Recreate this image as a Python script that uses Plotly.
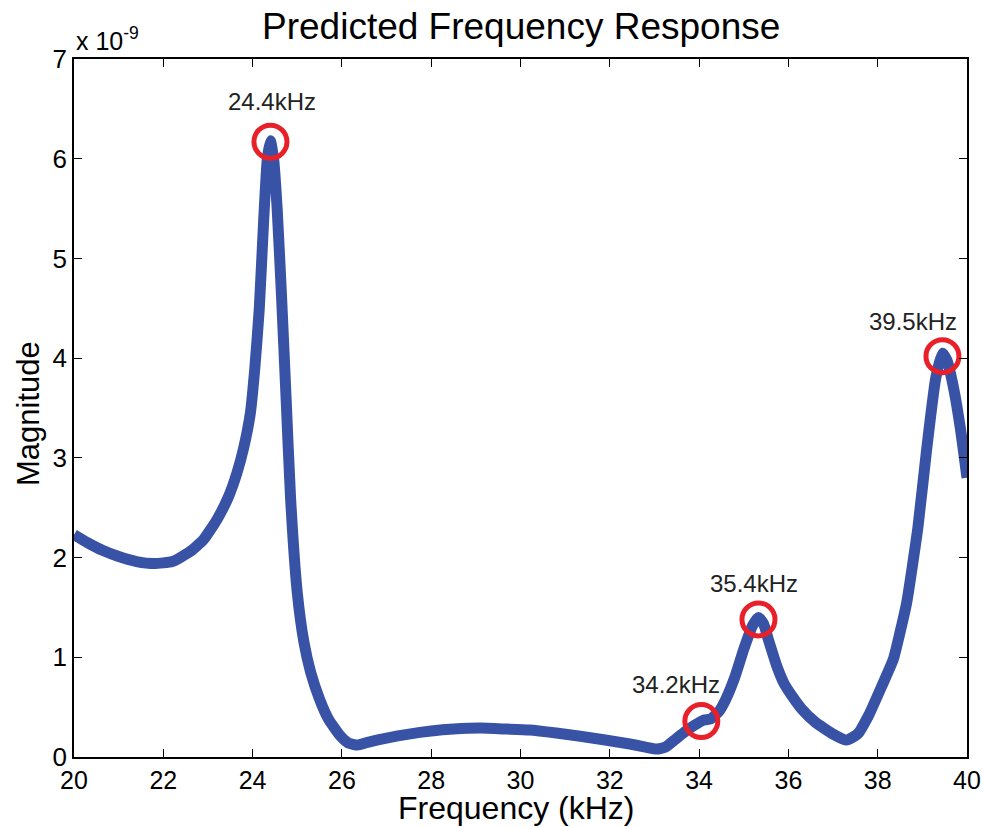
import plotly.graph_objects as go

# Frequency response (magnitude in units of 1e-9)
freq_khz = [20.0, 20.3, 20.65, 21.0, 21.4, 21.8, 22.2, 22.6, 22.9, 23.2, 23.45, 23.65, 23.8, 23.95,
            24.05, 24.15, 24.25, 24.33, 24.4, 24.47, 24.55, 24.65, 24.75, 24.85, 25.0, 25.15, 25.3,
            25.5, 25.7, 25.95, 26.15, 26.35, 26.6, 27.0, 27.5, 28.0, 28.5, 29.1, 29.7, 30.2, 30.8,
            31.3, 31.9, 32.45, 32.8, 33.05, 33.25, 33.45, 33.7, 33.9, 34.1, 34.25, 34.45, 34.6, 34.8,
            35.0, 35.2, 35.33, 35.45, 35.55, 35.75, 35.9, 36.1, 36.3, 36.6, 37.0, 37.3, 37.55, 37.8,
            38.1, 38.35, 38.5, 38.65, 38.9, 39.1, 39.3, 39.45, 39.55, 39.7, 39.85, 40.0]
magnitude = [2.23, 2.15, 2.07, 2.01, 1.96, 1.94, 1.96, 2.06, 2.18, 2.38, 2.6, 2.85, 3.1, 3.45,
             3.9, 4.5, 5.4, 6.0, 6.18, 6.0, 5.5, 4.6, 3.6, 2.6, 1.65, 1.15, 0.85,
             0.58, 0.38, 0.22, 0.14, 0.12, 0.15, 0.19, 0.23, 0.26, 0.28, 0.29, 0.28, 0.27, 0.24,
             0.21, 0.17, 0.13, 0.10, 0.08, 0.10, 0.17, 0.26, 0.32, 0.37, 0.38, 0.46, 0.58, 0.8,
             1.08, 1.32, 1.40, 1.33, 1.18, 0.9, 0.74, 0.6, 0.48, 0.35, 0.23, 0.17, 0.23, 0.42,
             0.72, 0.98, 1.25, 1.55, 2.3, 3.1, 3.8, 4.05, 3.98, 3.7, 3.3, 2.8]

# Highlighted resonances
peak_freq = [24.4, 34.05, 35.33, 39.45]
peak_mag = [6.17, 0.36, 1.38, 4.02]
peak_labels = ["24.4kHz", "34.2kHz", "35.4kHz", "39.5kHz"]
label_xshift = [2, -25, -4, -29]
label_yshift = [40, 37, 36, 35]

x_ticks = [20, 22, 24, 26, 28, 30, 32, 34, 36, 38, 40]
y_ticks = [0, 1, 2, 3, 4, 5, 6, 7]

FONT = "Liberation Sans, Arial, sans-serif"

fig = go.Figure()
fig.add_trace(go.Scatter(
    x=freq_khz, y=magnitude, mode="lines",
    line=dict(color="#3853a6", width=11, shape="spline", smoothing=0.5),
    hoverinfo="skip", showlegend=False))
fig.add_trace(go.Scatter(
    x=peak_freq, y=peak_mag, mode="markers",
    marker=dict(symbol="circle-open", size=33, color="#e8202a", line=dict(width=5, color="#e8202a")),
    hoverinfo="skip", showlegend=False))

for fx, fy, t, dx, dy in zip(peak_freq, peak_mag, peak_labels, label_xshift, label_yshift):
    fig.add_annotation(x=fx, y=fy, text=t, showarrow=False, xshift=dx, yshift=dy,
                       font=dict(family=FONT, size=24, color="#222222"))

# exponent label
fig.add_annotation(xref="paper", yref="paper", x=0, y=1, xanchor="left", yanchor="bottom",
                   yshift=2, text="x 10<sup>-9</sup>", showarrow=False,
                   font=dict(family=FONT, size=25, color="black"))
# title
fig.add_annotation(xref="paper", yref="paper", x=0.5, y=1, xanchor="center", yanchor="middle",
                   yshift=33, text="Predicted Frequency Response", showarrow=False,
                   font=dict(family=FONT, size=37, color="black"))
# axis titles
fig.add_annotation(xref="paper", yref="paper", x=0.5, y=0, xanchor="center", yanchor="middle",
                   xshift=-4, yshift=-51, text="Frequency (kHz)", showarrow=False,
                   font=dict(family=FONT, size=32, color="black"))
fig.add_annotation(xref="paper", yref="paper", x=0, y=0.5, xanchor="center", yanchor="middle",
                   xshift=-46, yshift=-6, text="Magnitude", textangle=-90, showarrow=False,
                   font=dict(family=FONT, size=31, color="black"))

fig.update_layout(
    width=985, height=827,
    margin=dict(l=74, r=18, t=59, b=70, autoexpand=False),
    paper_bgcolor="white", plot_bgcolor="white",
    font=dict(family=FONT, color="black"),
)
fig.update_xaxes(
    range=[20, 40], tickvals=x_ticks, ticktext=[str(v) for v in x_ticks], automargin=False,
    showgrid=False, zeroline=False, showline=True, linecolor="black", linewidth=1.5,
    mirror="ticks", ticks="inside", ticklen=8, tickcolor="black",
    tickfont=dict(family=FONT, size=25, color="black"))
fig.update_yaxes(
    range=[0, 7], tickvals=y_ticks, ticktext=[str(v) for v in y_ticks], automargin=False,
    showgrid=False, zeroline=False, showline=True, linecolor="black", linewidth=1.5,
    mirror="ticks", ticks="inside", ticklen=8, tickcolor="black",
    tickfont=dict(family=FONT, size=26, color="black"))

fig.write_html("out.html", config={"displayModeBar": False},
               post_script="document.body.style.margin='0';document.body.style.overflow='hidden';")
